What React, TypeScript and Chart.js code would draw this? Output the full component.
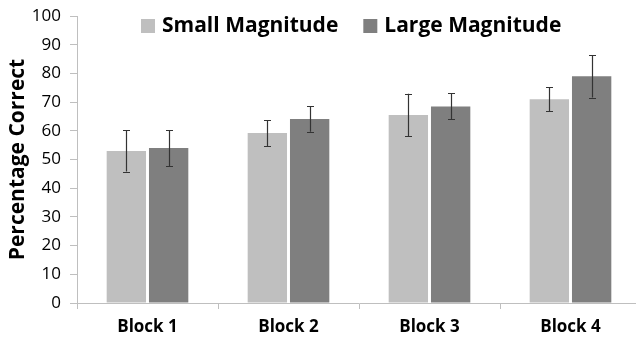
import React, { useEffect, useRef } from "react";
import { Chart, registerables } from "chart.js";

Chart.register(...registerables);

const categories = ["Block 1", "Block 2", "Block 3", "Block 4"];
const seriesNames = ["Small Magnitude", "Large Magnitude"];
const smallValues = [53, 59.2, 65.5, 71];
const largeValues = [54, 64.1, 68.5, 79];
const smallErrors = [7.2, 4.5, 7.4, 4.2];
const largeErrors = [6.3, 4.4, 4.5, 7.4];
const yTicks = [0, 10, 20, 30, 40, 50, 60, 70, 80, 90, 100];

const FONT = "'Open Sans', Lato, sans-serif";

const errorBarPlugin = {
  id: "errorBars",
  afterDatasetsDraw(chart: any) {
    const ctx = chart.ctx;
    const yScale = chart.scales.y;
    chart.data.datasets.forEach((ds: any, i: number) => {
      const meta = chart.getDatasetMeta(i);
      const errs = ds.errors as number[];
      meta.data.forEach((el: any, j: number) => {
        const v = ds.data[j] as number;
        const e = errs[j];
        const yt = yScale.getPixelForValue(v + e);
        const yb = yScale.getPixelForValue(v - e);
        const x = Math.round(el.x) + 0.5;
        ctx.save();
        ctx.strokeStyle = "#333333";
        ctx.lineWidth = 1.2;
        ctx.beginPath();
        ctx.moveTo(x, yt);
        ctx.lineTo(x, yb);
        ctx.moveTo(x - 3.5, Math.round(yt) + 0.5);
        ctx.lineTo(x + 3.5, Math.round(yt) + 0.5);
        ctx.moveTo(x - 3.5, Math.round(yb) + 0.5);
        ctx.lineTo(x + 3.5, Math.round(yb) + 0.5);
        ctx.stroke();
        ctx.restore();
      });
    });
  },
};

const legendPlugin = {
  id: "customLegend",
  afterDraw(chart: any) {
    const ctx = chart.ctx;
    const area = chart.chartArea;
    ctx.save();
    ctx.font = `bold 21px ${FONT}`;
    ctx.textBaseline = "middle";
    ctx.fillStyle = "#000";
    let x = area.left + 64;
    const yMid = 26;
    chart.data.datasets.forEach((ds: any) => {
      ctx.fillStyle = ds.backgroundColor;
      ctx.fillRect(x, yMid - 7, 14, 14);
      ctx.fillStyle = "#000";
      ctx.fillText(ds.label, x + 21, yMid);
      const w = ctx.measureText(ds.label).width;
      x += 21 + w + 25;
    });
    ctx.restore();
  },
};

export default function App() {
  const ref = useRef<HTMLCanvasElement>(null);
  useEffect(() => {
    if (!ref.current) return;
    const chart = new Chart(ref.current, {
      type: "bar",
      data: {
        labels: categories,
        datasets: [
          {
            label: seriesNames[0],
            data: smallValues,
            errors: smallErrors,
            backgroundColor: "#bfbfbf",
            borderWidth: 0,
            categoryPercentage: 0.6,
            barPercentage: 0.93,
          } as any,
          {
            label: seriesNames[1],
            data: largeValues,
            errors: largeErrors,
            backgroundColor: "#7f7f7f",
            borderWidth: 0,
            categoryPercentage: 0.6,
            barPercentage: 0.93,
          } as any,
        ],
      },
      options: {
        responsive: false,
        animation: false,
        layout: { padding: { top: 16, right: 4, left: 0, bottom: 0 } },
        plugins: { legend: { display: false }, tooltip: { enabled: false } },
        scales: {
          x: {
            grid: {
              drawOnChartArea: false,
              drawTicks: true,
              tickLength: 6,
              color: "#bfbfbf",
              offset: true,
            },
            border: { color: "#bfbfbf", width: 1 },
            ticks: {
              color: "#000",
              font: { family: FONT, size: 17, weight: "bold" },
              padding: 8,
            },
            afterFit(scale: any) {
              scale.height = 38;
              scale.paddingLeft = 0;
              scale.paddingRight = 0;
            },
          },
          y: {
            min: 0,
            max: 100,
            afterBuildTicks(scale: any) {
              scale.ticks = yTicks.map((v) => ({ value: v }));
            },
            grid: {
              drawOnChartArea: false,
              drawTicks: true,
              tickLength: 7,
              color: "#bfbfbf",
            },
            border: { color: "#bfbfbf", width: 1 },
            ticks: {
              color: "#000",
              font: { family: FONT, size: 17 },
              padding: 9,
            },
            title: {
              display: true,
              text: "Percentage Correct",
              color: "#000",
              font: { family: FONT, size: 21, weight: "bold" },
              padding: { top: 5, bottom: 0 },
            },
            afterFit(scale: any) {
              scale.width = 77;
              scale.paddingTop = 0;
              scale.paddingBottom = 0;
            },
          },
        },
      },
      plugins: [errorBarPlugin, legendPlugin],
    });
    return () => chart.destroy();
  }, []);
  return (
    <div
      style={{
        position: "absolute",
        left: 0,
        top: 0,
        width: 636,
        height: 341,
        overflow: "hidden",
        background: "#fff",
      }}
    >
      <canvas ref={ref} width={645} height={341} style={{ display: "block" }} />
    </div>
  );
}
